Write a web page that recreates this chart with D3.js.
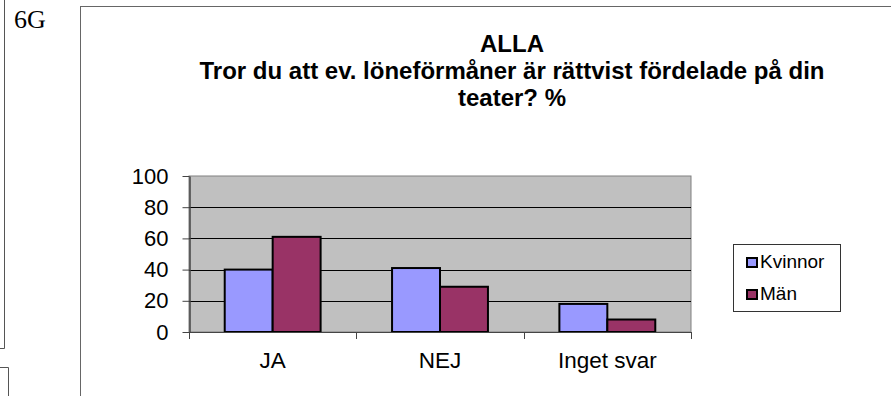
<!DOCTYPE html>
<html>
<head>
<meta charset="utf-8">
<script src="https://cdn.jsdelivr.net/npm/d3@7"></script>
<style>
  html, body { margin: 0; padding: 0; background: #fff; }
  svg { display: block; }
  text { font-family: "Liberation Sans", Arial, sans-serif; fill: #000; }
</style>
</head>
<body>
<svg id="chart" width="891" height="396"></svg>
<script>
// Survey answers, percent by gender
const categories = ["JA", "NEJ", "Inget svar"];
const seriesNames = ["Kvinnor", "Män"];
const kvinnor = [40, 41, 18];
const man = [61, 29, 8];
const yTicks = [0, 20, 40, 60, 80, 100];
const titleLines = ["ALLA", "Tror du att ev. löneförmåner är rättvist fördelade på din", "teater? %"];
const colors = ["#9999ff", "#993366"];

const values = [kvinnor, man];
const svg = d3.select("#chart");

// Page fragments around the chart
svg.append("path")
  .attr("d", "M4.5,0 V348.5 H0")
  .attr("fill", "none").attr("stroke", "#555").attr("stroke-width", 1);
svg.append("path")
  .attr("d", "M0,367.5 H8.5 V396")
  .attr("fill", "none").attr("stroke", "#555").attr("stroke-width", 1);
svg.append("text")
  .attr("x", 14).attr("y", 28)
  .style("font-family", "'Liberation Serif', 'Times New Roman', serif")
  .style("font-size", "26px")
  .text("6G");

// Chart frame
svg.append("rect")
  .attr("x", 80.5).attr("y", 6.5).attr("width", 900).attr("height", 500)
  .attr("fill", "#fff").attr("stroke", "#666").attr("stroke-width", 1);

// Title
const title = svg.append("text")
  .attr("text-anchor", "middle")
  .style("font-size", "24px").style("font-weight", "bold");
title.selectAll("tspan").data(titleLines).join("tspan")
  .attr("x", 512).attr("y", (d, i) => 52 + i * 27)
  .text(d => d);

// Scales
const plot = { left: 189, right: 691, top: 176, bottom: 332 };
const y = d3.scaleLinear().domain([0, 100]).range([plot.bottom, plot.top]);
const x0 = d3.scaleBand().domain(categories).range([plot.left, plot.right]).padding(0);
const x1 = d3.scaleBand().domain(seriesNames).range([0, x0.bandwidth()])
  .paddingInner(0).paddingOuter(0.745);

// Plot area
svg.append("rect")
  .attr("x", plot.left).attr("y", plot.top)
  .attr("width", plot.right - plot.left).attr("height", plot.bottom - plot.top)
  .attr("fill", "#c0c0c0").attr("stroke", "#808080").attr("stroke-width", 1);

// Gridlines
svg.append("g").selectAll("line")
  .data(yTicks.filter(t => t > 0 && t < 100)).join("line")
  .attr("x1", plot.left).attr("x2", plot.right)
  .attr("y1", d => Math.round(y(d)) + 0.5).attr("y2", d => Math.round(y(d)) + 0.5)
  .attr("stroke", "#000").attr("stroke-width", 1);

// Bars
const groups = svg.append("g").selectAll("g")
  .data(categories).join("g")
  .attr("transform", c => `translate(${x0(c)},0)`);
groups.selectAll("rect")
  .data((c, ci) => seriesNames.map((s, si) => ({ s, si, v: values[si][ci] })))
  .join("rect")
  .attr("x", d => x1(d.s))
  .attr("y", d => y(d.v))
  .attr("width", x1.bandwidth())
  .attr("height", d => y(0) - y(d.v))
  .attr("fill", d => colors[d.si])
  .attr("stroke", "#000").attr("stroke-width", 2);

// Y axis
const yAxis = svg.append("g")
  .attr("transform", `translate(${plot.left + 0.5},0)`)
  .call(d3.axisLeft(y).tickValues(yTicks).tickSize(7).tickPadding(14).tickSizeOuter(0));
yAxis.select(".domain").attr("stroke", "#444").attr("stroke-width", 1.5);
yAxis.selectAll(".tick line").attr("stroke", "#444");
yAxis.selectAll(".tick text")
  .style("font-size", "22px").style("font-family", "'Liberation Sans', Arial, sans-serif")
  .attr("fill", "#000");

// X axis: tick marks sit on category boundaries
const boundaries = categories.map(c => x0(c)).concat([plot.right]);
const xAxis = svg.append("g");
xAxis.append("line")
  .attr("x1", plot.left).attr("x2", plot.right)
  .attr("y1", plot.bottom + 0.5).attr("y2", plot.bottom + 0.5)
  .attr("stroke", "#444").attr("stroke-width", 1);
xAxis.selectAll("line.tk").data(boundaries).join("line").attr("class", "tk")
  .attr("x1", d => Math.round(d) + 0.5).attr("x2", d => Math.round(d) + 0.5)
  .attr("y1", plot.bottom).attr("y2", plot.bottom + 7)
  .attr("stroke", "#444").attr("stroke-width", 1);
xAxis.selectAll("text").data(categories).join("text")
  .attr("x", c => x0(c) + x0.bandwidth() / 2)
  .attr("y", 368)
  .attr("text-anchor", "middle")
  .style("font-size", "22.5px")
  .text(c => c);

// Legend
const legend = svg.append("g");
legend.append("rect")
  .attr("x", 733.5).attr("y", 244.5).attr("width", 107).attr("height", 67)
  .attr("fill", "#fff").attr("stroke", "#333").attr("stroke-width", 1);
const items = legend.selectAll("g.item").data(seriesNames).join("g").attr("class", "item")
  .attr("transform", (d, i) => `translate(0,${i * 32})`);
items.append("rect")
  .attr("x", 747).attr("y", 258).attr("width", 10).attr("height", 9)
  .attr("fill", (d, i) => colors[i]).attr("stroke", "#000").attr("stroke-width", 2);
items.append("text")
  .attr("x", 760).attr("y", 268)
  .style("font-size", "19px")
  .text(d => d);
</script>
</body>
</html>
